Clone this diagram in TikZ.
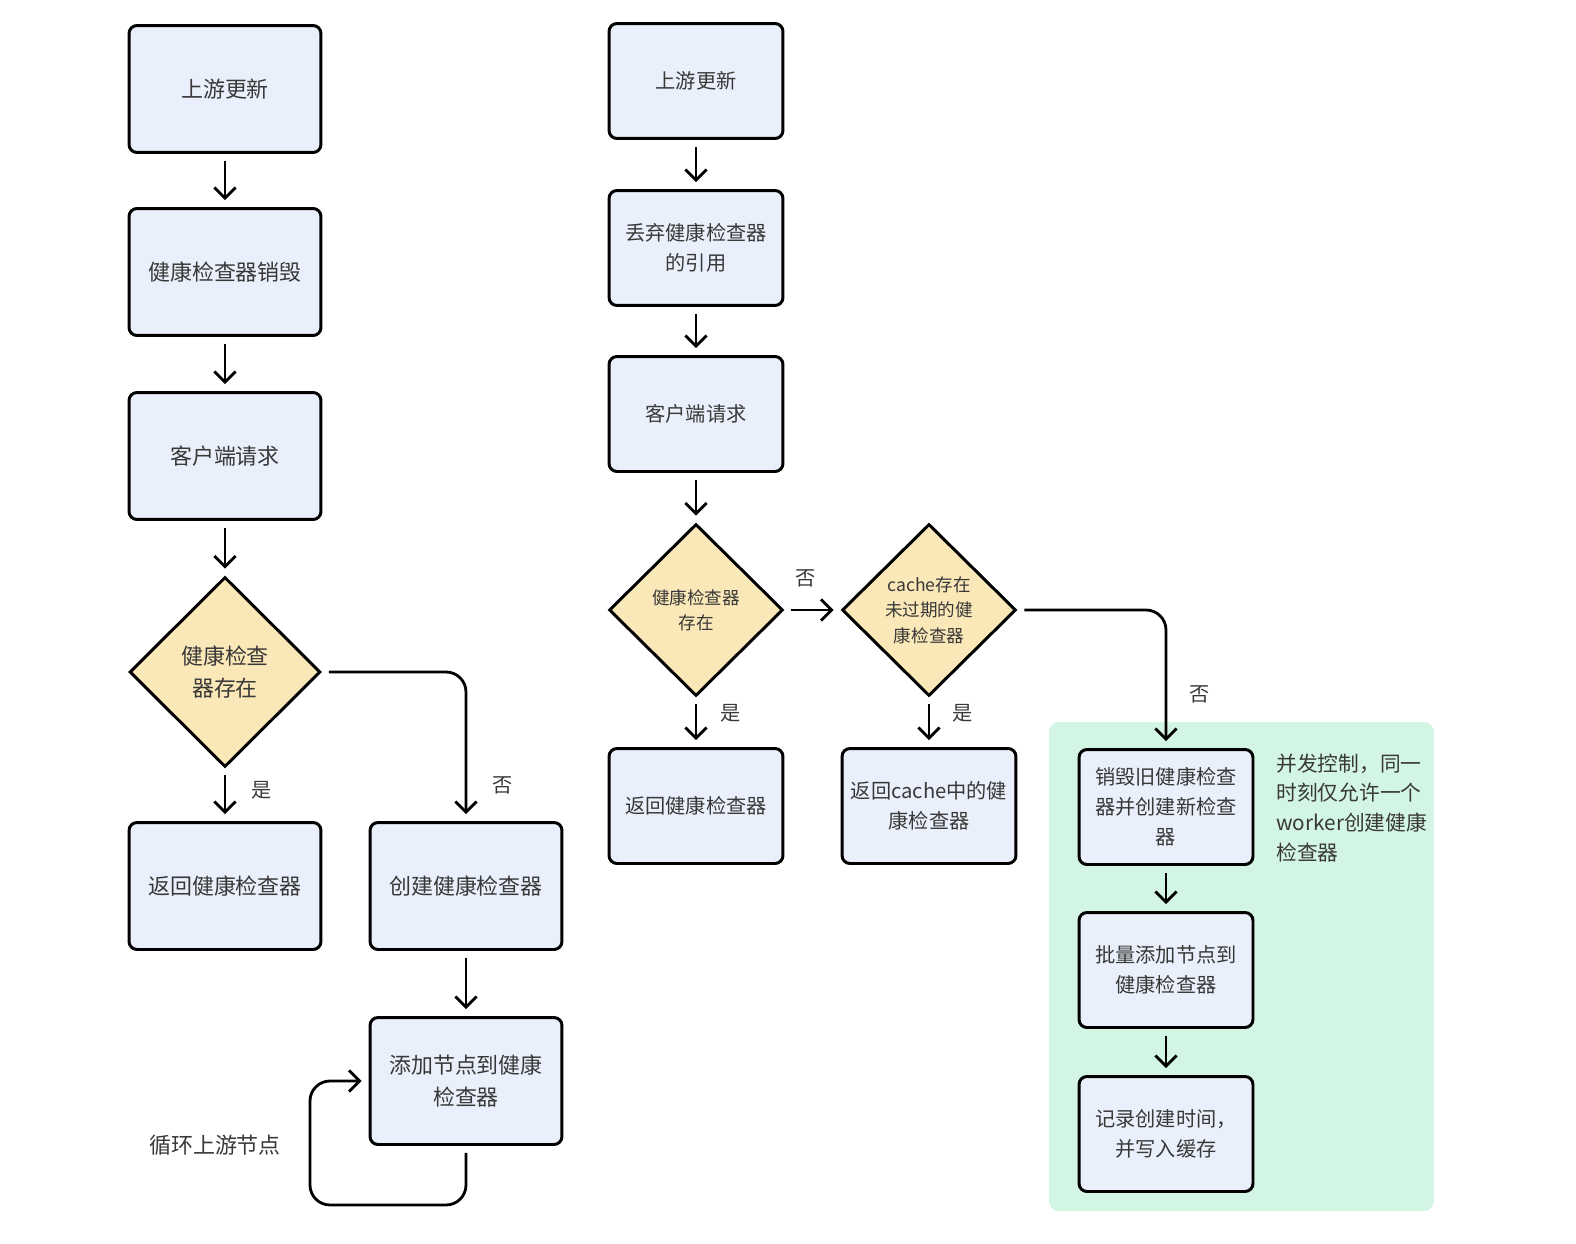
\documentclass[tikz,border=0pt]{standalone}
\usepackage{fontspec}
\newfontfamily\cjk{Noto Sans CJK SC}
\usetikzlibrary{shapes.geometric,arrows.meta}
\definecolor{boxfill}{HTML}{EAF0FB}
\definecolor{condfill}{HTML}{FBE8B8}
\definecolor{zonefill}{HTML}{D3F5E3}
\definecolor{ink}{HTML}{383838}
\tikzset{>={Straight Barb[length=6pt,width=12pt]}}
\tikzset{
  every node/.style = {font=\cjk, text=ink},
  box/.style = {draw=black, line width=1.7pt, rounded corners=0.16cm, fill=boxfill, align=center, inner sep=0pt},
  bigbox/.style = {box, minimum width=3.84cm, minimum height=2.54cm, font=\cjk\fontsize{12.5}{18}\selectfont},
  smallbox/.style = {box, minimum width=3.48cm, minimum height=2.3cm, font=\cjk\fontsize{11.5}{17}\selectfont},
  cond/.style = {diamond, draw=black, line width=1.7pt, fill=condfill, align=center, inner sep=0pt},
  flow/.style = {->, draw=black, line width=1.6pt, shorten >=0.14cm, shorten <=0.14cm},
  branch/.style = {font=\cjk\fontsize{11.5}{14}\selectfont}
}

\begin{document}
\begin{tikzpicture}[x=0.02cm,y=-0.02cm]
  \useasboundingbox (0,0) rectangle (1576,1244);
  % concurrency zone
  \fill[zonefill, rounded corners=0.2cm] (1049,722) rectangle (1434,1211);
  % left flow
  \node (up1) at (225,89) [bigbox] {上游更新};
  \node (kill1) at (225,272) [bigbox] {健康检查器销毁};
  \node (req1) at (225,456) [bigbox] {客户端请求};
  \node (has1) at (225,672) [cond, minimum width=3.82cm, minimum height=3.8cm, font=\cjk\fontsize{12.5}{18}\selectfont] {健康检查\\器存在};
  \node (ret1) at (225,886) [bigbox] {返回健康检查器};
  \node (new1) at (466,886) [bigbox] {创建健康检查器};
  \node (add1) at (466,1081) [bigbox] {添加节点到健康\\检查器};
  \coordinate (loop1) at (310,1205);
  \draw[flow] (up1) -- (kill1);
  \draw[flow] (kill1) -- (req1);
  \draw[flow] (req1) -- (has1);
  \draw[flow] (has1) -- (ret1);
  \draw[flow, rounded corners=0.4cm] (has1.east) -| (new1.north);
  \draw[flow] (new1) -- (add1);
  \draw[flow, rounded corners=0.4cm] (add1.south) |- (loop1) |- (add1.west);
  \node (yes1) at (262,790) [branch] {是};
  \node (no1) at (503,785) [branch] {否};
  \node (looptxt) at (215,1145) [font=\cjk\fontsize{12.5}{15}\selectfont] {循环上游节点};
  % right flow
  \node (up2) at (696,81) [smallbox] {上游更新};
  \node (drop2) at (696,248) [smallbox] {丢弃健康检查器\\的引用};
  \node (req2) at (696,414) [smallbox] {客户端请求};
  \node (has2) at (696,610) [cond, minimum width=3.48cm, minimum height=3.44cm, font=\cjk\fontsize{10}{14.5}\selectfont] {健康检查器\\存在};
  \node (cache2) at (929,610) [cond, minimum width=3.48cm, minimum height=3.44cm, font=\cjk\fontsize{10}{14.5}\selectfont] {cache存在\\未过期的健\\康检查器};
  \node (ret2) at (696,806) [smallbox] {返回健康检查器};
  \node (retc2) at (929,806) [smallbox] {返回cache中的健\\康检查器};
  \node (renew2) at (1166,807) [smallbox] {销毁旧健康检查\\器并创建新检查\\器};
  \node (batch2) at (1166,970) [smallbox] {批量添加节点到\\健康检查器};
  \node (log2) at (1166,1134) [smallbox] {记录创建时间，\\并写入缓存};
  \draw[flow] (up2) -- (drop2);
  \draw[flow] (drop2) -- (req2);
  \draw[flow] (req2) -- (has2);
  \draw[flow] (has2) -- (cache2);
  \draw[flow] (has2) -- (ret2);
  \draw[flow] (cache2) -- (retc2);
  \draw[flow, rounded corners=0.4cm] (cache2.east) -| (renew2.north);
  \draw[flow] (renew2) -- (batch2);
  \draw[flow] (batch2) -- (log2);
  \node (no2) at (806,578) [branch] {否};
  \node (yes2) at (731,713) [branch] {是};
  \node (yes3) at (963,713) [branch] {是};
  \node (no3) at (1200,694) [branch] {否};
  % note
  \node (lock) at (1276,808) [anchor=west, align=left, inner sep=0pt, font=\cjk\fontsize{11.8}{17}\selectfont] {并发控制，同一\\时刻仅允许一个\\worker创建健康\\检查器};
\end{tikzpicture}
\end{document}
